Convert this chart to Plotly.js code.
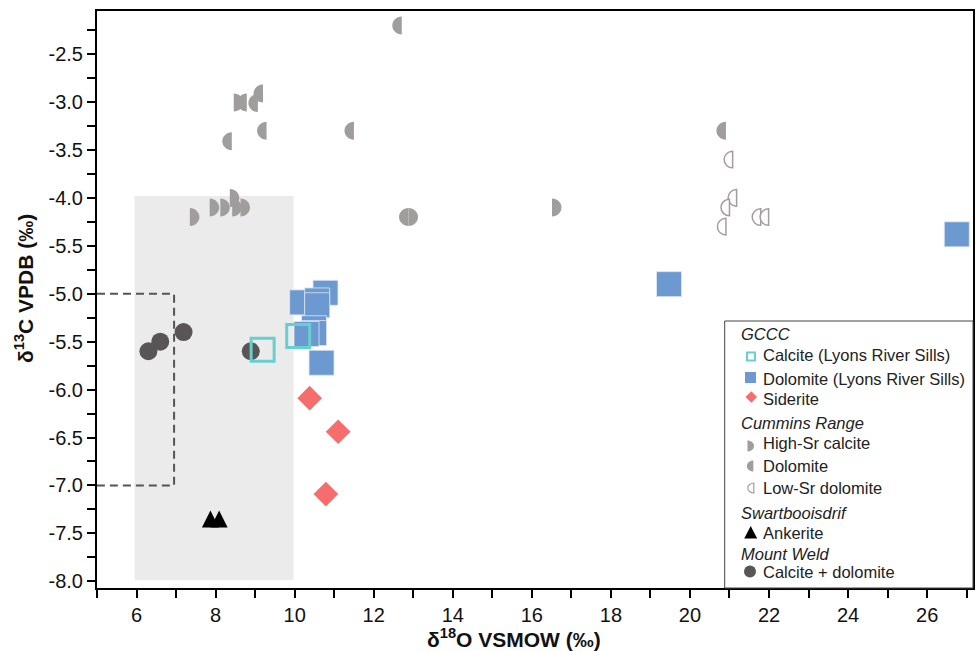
<!DOCTYPE html>
<html><head><meta charset="utf-8">
<script src="https://cdn.plot.ly/plotly-3.0.1.min.js"></script>
<style>html,body{margin:0;padding:0;background:#fff}</style>
</head><body>
<div id="chart" style="width:977px;height:651px"></div>
<script>
// ---- GCCC (Lyons River Sills) ----
const calciteX = [9.19, 10.09];
const calciteY = [-5.585, -5.44];
const dolomiteLRX = [10.78, 10.19, 10.57, 10.57, 10.49, 10.49, 10.30, 10.68, 19.47, 26.75];
const dolomiteLRY = [-4.99, -5.09, -5.07, -5.12, -5.36, -5.41, -5.42, -5.72, -4.90, -4.38];
const sideriteX = [10.38, 11.10, 10.79];
const sideriteY = [-6.09, -6.44, -7.09];
// ---- Cummins Range ----
const highSrX = [8.46, 7.35, 7.85, 8.12, 8.36, 8.42, 8.63, 12.88, 16.51];
const highSrY = [-3.005, -4.20, -4.10, -4.10, -4.00, -4.10, -4.10, -4.20, -4.10];
const dolCRX = [12.71, 8.79, 9.20, 9.07, 8.41, 9.29, 11.50, 20.91, 12.88];
const dolCRY = [-2.20, -3.005, -2.91, -3.01, -3.41, -3.30, -3.30, -3.30, -4.20];
const lowSrX = [21.08, 21.18, 21.00, 20.91, 21.79, 21.99];
const lowSrY = [-3.60, -4.00, -4.10, -4.30, -4.20, -4.20];
// ---- Swartbooisdrif ----
const ankeriteX = [7.87, 8.09];
const ankeriteY = [-7.35, -7.35];
// ---- Mount Weld ----
const mwX = [6.30, 6.60, 7.19, 8.89];
const mwY = [-5.60, -5.50, -5.40, -5.60];
// ---- axes ----
const xTickVals = [6, 8, 10, 12, 14, 16, 18, 20, 22, 24, 26];
const xTickText = ['6', '8', '10', '12', '14', '16', '18', '20', '22', '24', '26'];
const xMinorVals = [5, 7, 9, 11, 13, 15, 17, 19, 21, 23, 25, 27];
const yTickVals = [-8, -7.5, -7, -6.5, -6, -5.5, -5, -4.5, -4, -3.5, -3, -2.5];
const yTickText = ['-8.0', '-7.5', '-7.0', '-6.5', '-6.0', '-5.5', '-5.0', '-5.5', '-4.0', '-3.5', '-3.0', '-2.5'];
const yMinorVals = [-7.75, -7.25, -6.75, -6.25, -5.75, -5.25, -4.75, -4.25, -3.75, -3.25, -2.75, -2.25];
// ---- legend content ----
const legendTitles = ['GCCC', 'Cummins Range', 'Swartbooisdrif', 'Mount Weld'];
const legendLabels = ['Calcite (Lyons River Sills)', 'Dolomite (Lyons River Sills)', 'Siderite',
                      'High-Sr calcite', 'Dolomite', 'Low-Sr dolomite', 'Ankerite', 'Calcite + dolomite'];

const GREY = '#a19d9d', BLUE = '#6b99d0', TEAL = '#66d0d0', RED = '#f76d6d', DARK = '#595555';
const FONT = 'Liberation Sans, Arial, sans-serif';

// plot area geometry (pixels)
const M = {l: 97, r: 4, t: 11, b: 63};
const PW = 977 - M.l - M.r, PH = 651 - M.t - M.b;
const px2p = px => (px - M.l) / PW;
const py2p = py => (651 - M.b - py) / PH;

const f = v => (+v).toFixed(2);
function halfPath(dir, rx, ry) {   // dir -1: flat side on the right (left half), +1: flat side on the left
  const k = 0.5523;
  return `M0,${f(ry)} C${f(dir*k*rx)},${f(ry)} ${f(dir*rx)},${f(k*ry)} ${f(dir*rx)},0 ` +
         `C${f(dir*rx)},${f(-k*ry)} ${f(dir*k*rx)},${f(-ry)} 0,${f(-ry)} Z`;
}
function markShape(x, y, path, fill, line) {
  return {type: 'path', xref: 'x', yref: 'y', xsizemode: 'pixel', ysizemode: 'pixel',
          xanchor: x, yanchor: y, path: path, fillcolor: fill, line: line, layer: 'above'};
}
function legendShape(px, py, extra) {
  return Object.assign({xref: 'paper', yref: 'paper', xsizemode: 'pixel', ysizemode: 'pixel',
          xanchor: px2p(px), yanchor: py2p(py), layer: 'above'}, extra);
}

const traces = [
  {x: mwX, y: mwY, mode: 'markers', name: 'Calcite + dolomite',
   marker: {symbol: 'circle', size: 18, color: DARK}},
  {x: ankeriteX, y: ankeriteY, mode: 'markers', name: 'Ankerite',
   marker: {symbol: 'arrow-down', angle: 180, standoff: 8.5, size: 17, color: 'black', line: {width: 0}}},
  {x: dolomiteLRX, y: dolomiteLRY, mode: 'markers', name: 'Dolomite (Lyons River Sills)',
   marker: {symbol: 'square', size: 25, color: BLUE, line: {width: 0.8, color: '#dfe8f5'}}},
  {x: calciteX, y: calciteY, mode: 'markers', name: 'Calcite (Lyons River Sills)',
   marker: {symbol: 'square-open', size: 23, color: TEAL, line: {width: 3, color: TEAL}}},
  {x: sideriteX, y: sideriteY, mode: 'markers', name: 'Siderite',
   marker: {symbol: 'diamond', size: 19, color: RED}}
];

const shapes = [
  {type: 'rect', xref: 'x', yref: 'y', x0: 5.95, x1: 9.97, y0: -7.99, y1: -3.98,
   fillcolor: '#ebebeb', line: {width: 0}, layer: 'below'},
  {type: 'path', xref: 'x', yref: 'y', path: 'M 5,-5 L 6.95,-5 L 6.95,-7 L 5,-7',
   line: {color: '#555', width: 2, dash: '8px,5px'}, layer: 'below'}
];
// Cummins Range half-circle marks, anchored on the data through the axes
highSrX.forEach((x, i) => shapes.push(markShape(x, highSrY[i], halfPath(1, 9.5, 9), GREY, {width: 0})));
dolCRX.forEach((x, i) => shapes.push(markShape(x, dolCRY[i], halfPath(-1, 9.5, 9), GREY, {width: 0})));
lowSrX.forEach((x, i) => shapes.push(markShape(x, lowSrY[i], halfPath(-1, 8.5, 8.3), 'white', {width: 1.5, color: GREY})));

// legend box
shapes.push({type: 'rect', xref: 'paper', yref: 'paper', x0: px2p(724.7), x1: 1, y0: 0, y1: py2p(321),
             fillcolor: 'white', line: {color: '#444', width: 1}, layer: 'above'});
// legend symbols
shapes.push(legendShape(751, 356.5, {type: 'rect', x0: -4, x1: 4, y0: -4, y1: 4, fillcolor: 'rgba(0,0,0,0)', line: {color: TEAL, width: 2}}));
shapes.push(legendShape(750.5, 377.5, {type: 'rect', x0: -5.5, x1: 5.5, y0: -5.5, y1: 5.5, fillcolor: BLUE, line: {width: 0}}));
shapes.push(legendShape(751.3, 397, {type: 'path', path: 'M0,5.8 L5.8,0 L0,-5.8 L-5.8,0 Z', fillcolor: RED, line: {width: 0}}));
shapes.push(legendShape(747.5, 446, {type: 'path', path: halfPath(1, 6.5, 5.5), fillcolor: GREY, line: {width: 0}}));
shapes.push(legendShape(753.3, 466, {type: 'path', path: halfPath(-1, 6.5, 5.5), fillcolor: GREY, line: {width: 0}}));
shapes.push(legendShape(753.8, 488, {type: 'path', path: halfPath(-1, 6, 5), fillcolor: 'white', line: {width: 1.2, color: GREY}}));
shapes.push(legendShape(750.7, 532.5, {type: 'path', path: 'M-6.5,-6 L6.5,-6 L0,6.5 Z', fillcolor: 'black', line: {width: 0}}));
shapes.push(legendShape(750, 571.5, {type: 'circle', x0: -6, x1: 6, y0: -6, y1: 6, fillcolor: DARK, line: {width: 0}}));

const titleRowsY = [334.5, 423, 512.5, 553.5];
const itemRowsY = [355, 378.5, 399, 442.5, 466, 487.5, 532.5, 571.5];
const annotations = [
  {text: '<b>\u03B4<sup>18</sup>O VSMOW (\u2030)</b>', xref: 'paper', yref: 'paper',
   x: px2p(514), y: py2p(638), xanchor: 'center', yanchor: 'middle', showarrow: false,
   font: {size: 21, family: FONT, color: '#111'}},
  {text: '<b>\u03B4<sup>13</sup>C VPDB (\u2030)</b>', xref: 'paper', yref: 'paper',
   x: px2p(24), y: py2p(289), xanchor: 'center', yanchor: 'middle', textangle: -90, showarrow: false,
   font: {size: 21, family: FONT, color: '#111'}}
];
legendTitles.forEach((t, i) => annotations.push({text: '<i>' + t + '</i>', xref: 'paper', yref: 'paper',
  x: px2p(739.5), y: py2p(titleRowsY[i]), xanchor: 'left', yanchor: 'middle', showarrow: false, borderpad: 0,
  font: {size: 16.5, family: FONT, color: '#222'}}));
legendLabels.forEach((t, i) => annotations.push({text: t, xref: 'paper', yref: 'paper',
  x: px2p(762), y: py2p(itemRowsY[i]), xanchor: 'left', yanchor: 'middle', showarrow: false, borderpad: 0,
  font: {size: 16.5, family: FONT, color: '#222'}}));

const layout = {
  width: 977, height: 651, margin: M,
  paper_bgcolor: 'white', plot_bgcolor: 'white',
  font: {family: FONT, color: '#111'},
  showlegend: false,
  xaxis: {range: [5, 5 + PW / 39.53], tickmode: 'array', tickvals: xTickVals, ticktext: xTickText,
          ticks: 'outside', ticklen: 8, tickwidth: 2, tickcolor: 'black',
          minor: {tickmode: 'array', tickvals: xMinorVals, ticks: 'outside', ticklen: 8, tickwidth: 2, tickcolor: 'black'},
          showline: true, linewidth: 2, linecolor: 'black', mirror: true,
          showgrid: false, zeroline: false, tickfont: {size: 20, family: FONT, color: '#111'}},
  yaxis: {range: [-8.07, -2.05], tickmode: 'array', tickvals: yTickVals, ticktext: yTickText,
          ticks: 'outside', ticklen: 8, tickwidth: 2, tickcolor: 'black',
          minor: {tickmode: 'array', tickvals: yMinorVals, ticks: 'outside', ticklen: 8, tickwidth: 2, tickcolor: 'black'},
          showline: true, linewidth: 2, linecolor: 'black', mirror: true,
          showgrid: false, zeroline: false, tickfont: {size: 20, family: FONT, color: '#111'}},
  shapes: shapes,
  annotations: annotations
};

Plotly.newPlot('chart', traces, layout, {displayModeBar: false, staticPlot: true});
</script>
</body></html>
